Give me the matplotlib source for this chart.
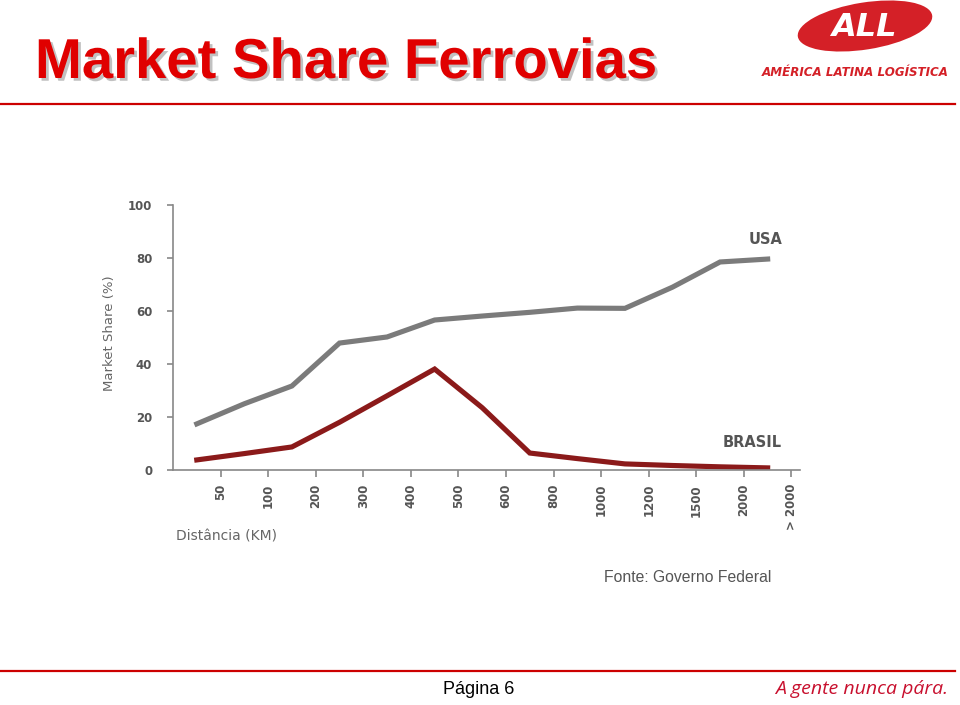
import matplotlib
matplotlib.use("Agg")
import matplotlib.pyplot as plt
import matplotlib.patheffects as pe
from matplotlib.patches import Ellipse
import numpy as np

# categories (distance bands) and boundary labels
distance_labels = ["50", "100", "200", "300", "400", "500", "600", "800",
                   "1000", "1200", "1500", "2000", "> 2000"]
usa_share = [17.4, 25.0, 31.7, 47.9, 50.2, 56.6, 58.1, 59.5, 61.1, 61.0, 69.0, 78.5, 79.6]
brasil_share = [3.8, 6.2, 8.7, 18.0, 28.0, 38.1, 23.5, 6.4, 4.3, 2.3, 1.7, 1.2, 0.8]
y_ticks = [0, 20, 40, 60, 80, 100]

RED = "#e00000"
GRAY_TXT = "#555555"

fig = plt.figure(figsize=(9.6, 7.05), dpi=100)

# header
fig.text(35 / 960, 1 - 78 / 705, "Market Share Ferrovias", fontsize=40.5, fontweight="bold",
         color=RED, family="Liberation Sans", va="baseline", ha="left",
         path_effects=[pe.withSimplePatchShadow(offset=(2, -2), shadow_rgbFace="#999999", alpha=0.6)])
fig.add_artist(plt.Line2D([0, 955 / 960], [1 - 104 / 705, 1 - 104 / 705], color="#cc0000", lw=1.6))

# logo
logo = Ellipse((8.65, 7.05 - 0.26), 1.36, 0.47, angle=9, facecolor="#d42027",
               edgecolor="none", transform=fig.dpi_scale_trans)
fig.add_artist(logo)
fig.text(864 / 960, 1 - 27 / 705, "ALL", fontsize=23, fontweight="bold", style="italic",
         color="white", ha="center", va="center", family="DejaVu Sans")
fig.text(855 / 960, 1 - 73 / 705, "AMÉRICA LATINA LOGÍSTICA", fontsize=8.6, fontweight="bold",
         style="italic", color="#d42027", ha="center", va="center", family="DejaVu Sans")

# chart
ax = fig.add_axes([173 / 960, 235 / 705, 627 / 960, 265 / 705])
x = np.arange(len(distance_labels))
ax.plot(x, usa_share, color="#7b7b7b", lw=3.7, solid_joinstyle="miter")
ax.plot(x, brasil_share, color="#8b1a1a", lw=3.7, solid_joinstyle="miter")

ax.set_xlim(-0.5, 12.68)
ax.set_ylim(0, 100)
ax.set_xticks(x + 0.5)
ax.set_xticklabels(distance_labels, rotation=90, fontsize=8.5, fontweight="bold", color=GRAY_TXT)
ax.set_yticks(y_ticks)
ax.set_yticklabels([str(v) for v in y_ticks], fontsize=8.5, fontweight="bold", color=GRAY_TXT)
ax.tick_params(axis="x", direction="out", length=5, width=1.2, color="#888888", pad=5)
ax.tick_params(axis="y", direction="out", length=4, width=1.2, color="#888888", pad=11)
for s in ["top", "right"]:
    ax.spines[s].set_visible(False)
for s in ["left", "bottom"]:
    ax.spines[s].set_color("#888888")
    ax.spines[s].set_linewidth(1.2)

ax.text(11.96, 87, "USA", fontsize=10.5, fontweight="bold", color=GRAY_TXT, ha="center", va="center")
ax.text(11.67, 10.5, "BRASIL", fontsize=10.5, fontweight="bold", color=GRAY_TXT, ha="center", va="center")

fig.text(110 / 960, 1 - 333 / 705, "Market Share (%)", rotation=90, fontsize=9.5,
         color="#666666", ha="center", va="center")
fig.text(176 / 960, 1 - 536 / 705, "Distância (KM)", fontsize=10, color="#666666",
         ha="left", va="center")

# footer
fig.text(604 / 960, 1 - 578 / 705, "Fonte: Governo Federal", fontsize=11.3, color="#555555",
         family="Liberation Sans", ha="left", va="center")
fig.add_artist(plt.Line2D([0, 955 / 960], [1 - 671 / 705, 1 - 671 / 705], color="#cc0000", lw=1.6))
fig.text(479 / 960, 1 - 689 / 705, "Página 6", fontsize=13, color="black",
         family="Liberation Sans", ha="center", va="center")
fig.text(948 / 960, 1 - 689 / 705, "A gente nunca pára.", fontsize=14, color="#c8102e",
         style="italic", family="Open Sans", ha="right", va="center")

fig.savefig("out.png", dpi=100)
